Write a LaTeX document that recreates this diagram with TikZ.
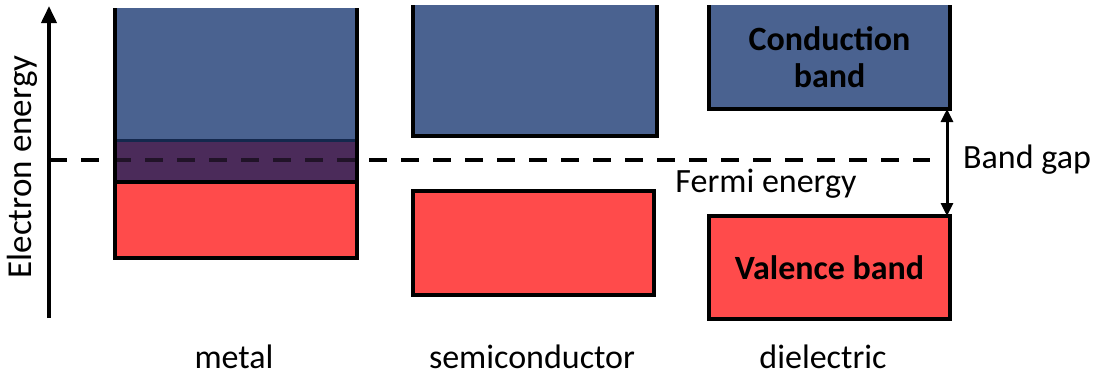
\documentclass[tikz,border=0pt]{standalone}
\usepackage{fontspec}
\setmainfont{Carlito}
\usepackage{xcolor}
\usetikzlibrary{arrows.meta,positioning,calc}
\definecolor{cbblue}{HTML}{4A6290}
\definecolor{cbnavy}{HTML}{14284D}
\definecolor{vbred}{HTML}{FF4B4B}
\definecolor{ovpurple}{HTML}{4B2B5A}
\tikzset{
  band/.style={rectangle, inner sep=0pt, outer sep=0pt, align=center,
               font=\fontsize{34}{37}\selectfont\bfseries},
  cband/.style={band, fill=cbblue},
  vband/.style={band, fill=vbred},
  edge/.style={draw=black, line width=3.5pt},
  fermi/.style={draw=black, line width=3.5pt, dash pattern=on 18pt off 14pt},
  axis/.style={-{Triangle[length=17pt,width=15pt]}, draw=black, line width=3.8pt},
  gap/.style={{Triangle[length=13pt,width=12pt]}-{Triangle[length=13pt,width=12pt]},
              draw=black, line width=3pt},
  lbl/.style={font=\fontsize{34}{37}\selectfont, inner sep=0pt},
}

\begin{document}
\begin{tikzpicture}[x=1pt, y=-1pt]
  \useasboundingbox (0,0) rectangle (1094,380);

  % metal: bands overlap
  \node[cband, minimum width=242pt, minimum height=132pt] (mc) at (236,74) {};
  \node[band, fill=ovpurple, minimum width=242pt, minimum height=42pt] (mo) at (236,161) {};
  \node[vband, minimum width=242pt, minimum height=76pt] (mv) at (236,220) {};

  % energy axis and Fermi level
  \coordinate (ax0) at (49,318);
  \coordinate (ax1) at (49,6);
  \coordinate (fe0) at (49,160);
  \coordinate (fe1) at (930,160);
  \draw[fermi] (fe0) -- (fe1);
  \draw[axis] (ax0) -- (ax1);
  \node[lbl, font=\fontsize{35}{37}\selectfont, rotate=90] (elab) at (22,167) {Electron energy};

  % tint the dashes inside the overlap
  \fill[ovpurple, opacity=0.45] (mo.north west) rectangle (mo.south east);
  \draw[draw=cbnavy, line width=3pt] (mc.south west) -- (mc.south east);
  \draw[edge] (mv.north west) -- (mv.north east);
  \draw[edge] (mc.north west) -- (mv.south west) -- (mv.south east) -- (mc.north east);

  % semiconductor: small gap
  \node[cband, minimum width=244pt, minimum height=131pt] (sc) at (535,70.5) {};
  \node[vband, minimum width=241pt, minimum height=104pt] (sv) at (533.5,243) {};
  \draw[edge] (sc.north west) -- (sc.south west) -- (sc.south east) -- (sc.north east);
  \draw[edge] (sv.north west) rectangle (sv.south east);

  % dielectric: wide gap
  \node[cband, minimum width=241pt, minimum height=104pt] (dc) at (829.5,57)
    {Conduction\\band};
  \node[vband, minimum width=241pt, minimum height=103pt] (dv) at (829.5,267.5)
    {Valence band};
  \draw[edge] (dc.north west) -- (dc.south west) -- (dc.south east) -- (dc.north east);
  \draw[edge] (dv.north west) rectangle (dv.south east);

  \draw[gap] ([xshift=-3pt]dc.south east) -- ([xshift=-3pt]dv.north east);
  \node[lbl, anchor=west] (glab) at (963,160) {Band gap};
  \node[lbl] (flab) at (766,184) {Fermi energy};

  % material names
  \node[lbl] (metal) at (234,357) {metal};
  \node[lbl] (semi) at (532,357) {semiconductor};
  \node[lbl] (diel) at (823,357) {dielectric};
\end{tikzpicture}
\end{document}
